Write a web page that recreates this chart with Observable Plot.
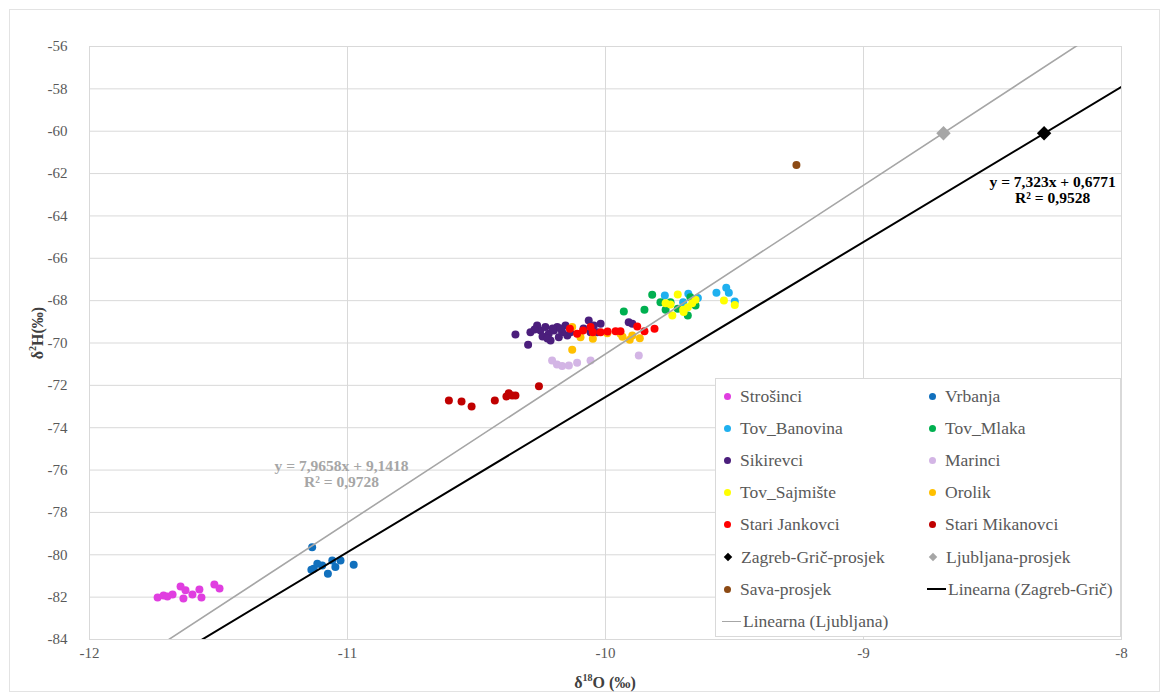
<!DOCTYPE html>
<html>
<head>
<meta charset="utf-8">
<script src="https://cdn.jsdelivr.net/npm/d3@7"></script>
<script src="https://cdn.jsdelivr.net/npm/@observablehq/plot@0.6"></script>
<style>
  html, body { margin: 0; padding: 0; background: #fff; }
  #wrap { position: relative; width: 1166px; height: 695px; font-family: "Liberation Serif", "Times New Roman", serif; }
  #outer { position: absolute; left: 9px; top: 9px; width: 1151px; height: 683px; border: 1px solid #e3e3e3; box-sizing: border-box; pointer-events: none; }
  .title { position: absolute; color: #404040; font-weight: bold; font-size: 16px; white-space: nowrap; }
  #legend { position: absolute; left: 715px; top: 378px; width: 406px; height: 259px; background: #fff; border: 1px solid #d9d9d9; box-sizing: border-box; }
  .item { position: absolute; height: 22px; display: flex; align-items: center; font-size: 17.5px; color: #595959; white-space: nowrap; transform: translateY(-50%); }
  .mk { display: inline-block; margin-right: 8px; }
</style>
</head>
<body>
<div id="wrap">
  <div id="chart"></div>
  <div id="outer"></div>
  <div class="title" id="ytitle" style="left:37px; top:333px; transform: translate(-50%,-50%) rotate(-90deg);">δ<sup style="font-size:10px">2</sup>H(‰)</div>
  <div class="title" id="xtitle" style="left:605px; top:682px; transform: translate(-50%,-50%);">δ<sup style="font-size:10px">18</sup>O (‰)</div>
  <div id="legend"></div>
</div>
<script>
// ---- Data (δ18O, δ2H) ----
const strosinci = [[-11.736,-82.02],[-11.698,-81.97],[-11.678,-81.87],[-11.647,-81.50],[-11.628,-81.68],[-11.636,-82.06],[-11.601,-81.87],[-11.574,-81.64],[-11.566,-82.02],[-11.516,-81.40],[-11.496,-81.59],[-11.713,-81.92]];
const vrbanja = [[-11.137,-79.64],[-11.117,-80.42],[-11.131,-80.66],[-11.098,-80.50],[-11.059,-80.27],[-11.027,-80.27],[-11.047,-80.58],[-11.076,-80.90],[-10.976,-80.47],[-11.140,-80.71]];
const tovBanovina = [[-9.770,-67.76],[-9.679,-67.68],[-9.699,-68.07],[-9.642,-67.88],[-9.570,-67.63],[-9.532,-67.39],[-9.522,-67.63],[-9.499,-68.04]];
const tovMlaka = [[-9.929,-68.51],[-9.849,-68.43],[-9.819,-67.72],[-9.787,-68.07],[-9.767,-68.43],[-9.748,-68.07],[-9.720,-68.38],[-9.681,-68.70],[-9.671,-67.84],[-9.651,-68.23]];
const sikirevci = [[-10.349,-69.60],[-10.300,-70.08],[-10.291,-69.49],[-10.265,-69.17],[-10.252,-69.41],[-10.233,-69.25],[-10.220,-69.56],[-10.213,-69.88],[-10.200,-69.41],[-10.187,-69.25],[-10.181,-69.73],[-10.168,-69.49],[-10.155,-69.17],[-10.148,-69.64],[-10.136,-69.49],[-10.065,-68.94],[-10.058,-69.49],[-10.045,-69.17],[-10.019,-69.09],[-10.032,-69.49],[-9.910,-69.02],[-9.896,-69.09],[-10.244,-69.69],[-10.205,-69.31],[-10.174,-69.31],[-10.275,-69.36],[-10.225,-69.79],[-10.085,-69.31]];
const marinci = [[-10.207,-70.83],[-10.188,-71.01],[-10.168,-71.09],[-10.142,-71.06],[-10.110,-70.93],[-10.058,-70.83],[-9.871,-70.59]];
const tovSajmiste = [[-9.720,-67.71],[-9.767,-68.12],[-9.748,-68.18],[-9.741,-68.70],[-9.699,-68.43],[-9.681,-68.31],[-9.664,-68.12],[-9.651,-67.96],[-9.697,-68.54],[-9.541,-67.99],[-9.499,-68.20]];
const orolik = [[-10.129,-69.25],[-10.097,-69.73],[-10.049,-69.80],[-10.129,-70.32],[-9.993,-69.54],[-9.942,-69.56],[-9.906,-69.85],[-9.896,-69.65],[-9.867,-69.77],[-9.934,-69.70]];
const stariJankovci = [[-10.138,-69.33],[-10.110,-69.56],[-10.087,-69.41],[-10.049,-69.49],[-10.019,-69.49],[-9.992,-69.46],[-9.961,-69.44],[-9.942,-69.44],[-9.877,-69.22],[-9.849,-69.44],[-9.810,-69.33],[-10.058,-69.25]];
const stariMikanovci = [[-10.607,-72.71],[-10.558,-72.76],[-10.519,-73.00],[-10.429,-72.71],[-10.375,-72.37],[-10.362,-72.48],[-10.349,-72.48],[-10.384,-72.53],[-10.258,-72.04]];
const zagrebGric = [[-8.30,-60.10]];
const ljubljana = [[-8.69,-60.10]];
const sava = [[-9.26,-61.60]];

const seriesNames = ["Strošinci","Vrbanja","Tov_Banovina","Tov_Mlaka","Sikirevci","Marinci","Tov_Sajmište","Orolik","Stari Jankovci","Stari Mikanovci","Zagreb-Grič-prosjek","Ljubljana-prosjek","Sava-prosjek"];
const seriesData = [strosinci,vrbanja,tovBanovina,tovMlaka,sikirevci,marinci,tovSajmiste,orolik,stariJankovci,stariMikanovci,zagrebGric,ljubljana,sava];
const seriesColors = ["#e03ee0","#1170bd","#1fb0ef","#00b050","#4b1e7c","#d3b5e5","#ffff00","#ffc000","#ff0000","#c00000","#000000","#a6a6a6","#8c4a14"];
const seriesSymbols = ["circle","circle","circle","circle","circle","circle","circle","circle","circle","circle","diamond","diamond","circle"];

// trendlines
const trendNames = ["Linearna (Zagreb-Grič)","Linearna (Ljubljana)"];
const trendSlopes = [7.323, 7.9658];
const trendIntercepts = [0.6771, 9.1418];
const trendColors = ["#000000","#a6a6a6"];
const trendWidths = [2, 1.6];
const trendLabels = ["y = 7,323x + 0,6771\nR² = 0,9528", "y = 7,9658x + 9,1418\nR² = 0,9728"];
const trendLabelX = [-8.267, -11.023];
const trendLabelY = [-62.75, -76.16];

const xTicks = [-12,-11,-10,-9,-8];
const yTicks = [-84,-82,-80,-78,-76,-74,-72,-70,-68,-66,-64,-62,-60,-58,-56];

// build tables
const circles = [], diamonds = [];
seriesData.forEach((arr, i) => arr.forEach(([x,y]) => {
  const row = {series: seriesNames[i], x, y};
  (seriesSymbols[i] === "diamond" ? diamonds : circles).push(row);
}));
const trendPts = [];
trendNames.forEach((n, i) => xTicks.filter((d,j)=>j===0||j===xTicks.length-1).forEach(x => trendPts.push({name:n, x, y: trendSlopes[i]*x + trendIntercepts[i]})));
const labelRows = trendNames.map((n,i)=>({name:n, text:trendLabels[i], x:trendLabelX[i], y:trendLabelY[i]}));

const chart = Plot.plot({
  width: 1166, height: 695,
  marginLeft: 89, marginRight: 45, marginTop: 46, marginBottom: 56,
  x: {domain: [-12,-8], label: null},
  y: {domain: [-84,-56], label: null},
  color: {domain: seriesNames, range: seriesColors},
  style: {fontFamily: "Liberation Serif, Times New Roman, serif", fontSize: "15px", color: "#595959", background: "transparent"},
  marks: [
    Plot.gridX(xTicks, {stroke: "#d9d9d9", strokeOpacity: 1}),
    Plot.gridY(yTicks, {stroke: "#d9d9d9", strokeOpacity: 1}),
    Plot.frame({stroke: "#d9d9d9"}),
    Plot.axisX(xTicks, {tickSize: 0, tickPadding: 8, tickFormat: d => String(d), label: null, fill: "#595959"}),
    Plot.axisY(yTicks, {tickSize: 0, tickPadding: 22, tickFormat: d => String(d), label: null, fill: "#595959"}),
    Plot.dot(circles, {x: "x", y: "y", fill: "series", r: 4, stroke: "none"}),
    Plot.line(trendPts, {x: "x", y: "y", z: "name", stroke: d => trendColors[trendNames.indexOf(d.name)], strokeWidth: d => trendWidths[trendNames.indexOf(d.name)], clip: true}),
    Plot.dot(diamonds, {x: "x", y: "y", fill: "series", symbol: "diamond2", r: 6.5, stroke: "none"}),
    Plot.text(labelRows, {x: "x", y: "y", text: "text", fill: d => d.name === trendNames[0] ? "#000" : "#a6a6a6", fontWeight: "bold", fontSize: 15.5, lineHeight: 1.05, textAnchor: "middle"})
  ]
});
document.getElementById("chart").appendChild(chart);

// legend (HTML overlay)
const legend = document.getElementById("legend");
const legendItems = seriesNames.map((n,i)=>({name:n, color:seriesColors[i], kind: seriesSymbols[i]}))
  .concat(trendNames.map((n,i)=>({name:n, color:trendColors[i], kind:"line", w: trendWidths[i]})));
const colX = [11, 216], rowY0 = 17, rowStep = 32.2;
legendItems.forEach((it, k) => {
  const col = k % 2, row = Math.floor(k / 2);
  const div = document.createElement("div");
  div.className = "item";
  div.style.left = (it.kind === "line" ? colX[col] - 5 : colX[col] - 4) + "px";
  div.style.top = (rowY0 + row * rowStep) + "px";
  let mk;
  if (it.kind === "circle") mk = `<span class="mk" style="width:7px;height:7px;border-radius:50%;background:${it.color};margin-left:1px;margin-right:9px"></span>`;
  else if (it.kind === "diamond") mk = `<span class="mk" style="width:6px;height:6px;background:${it.color};transform:rotate(45deg);margin-left:2px;margin-right:10px"></span>`;
  else mk = `<span class="mk" style="width:19px;height:${it.w}px;background:${it.color};margin-right:2px"></span>`;
  div.innerHTML = mk + `<span>${it.name}</span>`;
  legend.appendChild(div);
});
</script>
</body>
</html>
